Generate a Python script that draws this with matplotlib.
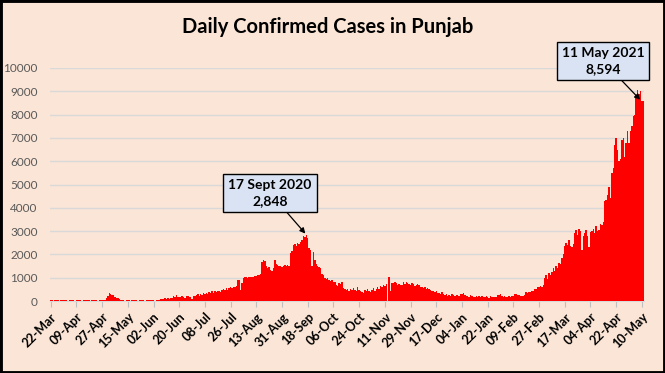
import matplotlib
matplotlib.use("Agg")
import matplotlib.pyplot as plt
import matplotlib.patches as mpatches
import numpy as np

# ---------------- data (daily confirmed cases, starting 22-Mar-2020) ----------------
mar_2020 = [40, 30, 0, 35, 45, 30, 0, 40, 35, 30]
apr_2020 = [45, 35, 0, 40, 30, 45, 40, 0, 35, 50, 40, 30, 0, 45, 40, 35, 30, 40, 0, 35,
            45, 40, 30, 0, 40, 35, 45, 40, 60, 110]
may_2020 = [200, 330, 300, 240, 270, 190, 140, 110, 80, 60, 45, 40, 0, 35, 40, 30, 0, 35, 40, 30,
            35, 0, 40, 35, 30, 40, 0, 35, 40, 30, 45]
jun_2020 = [35, 40, 0, 45, 50, 60, 70, 90, 80, 110, 100, 120, 90, 130, 110, 200, 180, 250, 170, 160,
            190, 210, 180, 150, 200, 220, 190, 160, 100, 210]
jul_2020 = [230, 250, 290, 220, 310, 260, 330, 290, 360, 310, 380, 340, 410, 360, 420, 390, 450, 410, 380, 480,
            510, 460, 540, 490, 570, 590, 540, 620, 600, 650, 920]
aug_2020 = [880, 470, 760, 1000, 1050, 1020, 1000, 1040, 1010, 1050, 1030, 1060, 1080, 1100, 1120, 1150,
            1680, 1750, 1720, 1500, 1400, 1450, 1350, 1300, 1420, 1750, 1600, 1550, 1500, 1520, 1480]
sep_2020 = [1510, 1530, 1500, 1550, 1500, 2050, 2150, 2400, 2450, 2380, 2500, 2450, 2550, 2600, 2800,
            2750, 2848, 2700, 2280, 2200, 1500, 2100, 1750, 1600, 1500, 1450, 1400, 1150, 1100, 1000]
oct_2020 = [950, 1000, 900, 850, 880, 800, 820, 700, 650, 780, 720, 800, 550, 500, 480, 520, 450, 500, 470, 540,
            480, 450, 600, 470, 430, 400, 350, 480, 420, 500, 450]
nov_2020 = [400, 480, 550, 450, 500, 600, 520, 650, 580, 700, 650, 720, 0, 1050, 450, 780, 760, 800, 790, 700,
            720, 680, 700, 800, 750, 820, 780, 730, 700, 760]
dec_2020 = [720, 650, 700, 750, 680, 600, 620, 550, 580, 500, 560, 520, 480, 440, 450, 380, 420, 350, 330, 300,
            380, 280, 250, 300, 220, 260, 230, 280, 250, 210, 240]
jan_2021 = [260, 230, 300, 280, 350, 240, 220, 200, 180, 250, 210, 190, 170, 200, 160, 210, 180, 230, 190, 170,
            210, 180, 150, 200, 170, 190, 160, 180, 250, 270, 300]
feb_2021 = [220, 180, 200, 160, 190, 210, 180, 200, 220, 280, 300, 260, 240, 200, 230, 210, 250, 380, 350, 400,
            380, 420, 450, 520, 500, 600, 580, 650]
mar_2021 = [620, 700, 1000, 1100, 950, 1200, 1100, 1250, 1400, 1300, 1500, 1400, 1650, 1600, 1850, 2000,
            2350, 2500, 2400, 2600, 2350, 2300, 2450, 2900, 3050, 2850, 3100, 3000, 2200, 2800, 2900]
apr_2021 = [3050, 2800, 2300, 2950, 3000, 3100, 2900, 3200, 3000, 3050, 3300, 3250, 3400, 4300, 4350,
            4550, 4900, 4400, 5500, 5700, 6700, 7000, 6500, 6000, 6100, 6900, 7000, 6200, 6800, 7300]
may_2021 = [6800, 7300, 7500, 7950, 8000, 8800, 9050, 8900, 9000, 8600, 8594]

x_labels = ['22-Mar', '09-Apr', '27-Apr', '15-May', '02-Jun', '20-Jun', '08-Jul', '26-Jul',
            '13-Aug', '31-Aug', '18-Sep', '06-Oct', '24-Oct', '11-Nov', '29-Nov', '17-Dec',
            '04-Jan', '22-Jan', '09-Feb', '27-Feb', '17-Mar', '04-Apr', '22-Apr', '10-May']
tick_step_days = 18
y_ticks = [0, 1000, 2000, 3000, 4000, 5000, 6000, 7000, 8000, 9000, 10000]

title = "Daily Confirmed Cases in Punjab"
peak1_label = "17 Sept 2020\n2,848"
peak2_label = "11 May 2021\n8,594"
peak1_value = 2848

values = np.array(mar_2020 + apr_2020 + may_2020 + jun_2020 + jul_2020 + aug_2020 + sep_2020 +
                  oct_2020 + nov_2020 + dec_2020 + jan_2021 + feb_2021 + mar_2021 + apr_2021 + may_2021)
days = np.arange(len(values))

# ---------------- figure ----------------
W, H = 665, 373
BG = '#FBE5D6'
plt.rcParams['font.family'] = ['Lato', 'DejaVu Sans']

fig = plt.figure(figsize=(W / 100, H / 100), dpi=100, facecolor=BG)
ax = fig.add_axes([50 / W, (H - 301) / H, (644 - 50) / W, (301 - 68) / H])
ax.set_facecolor(BG)

ax.bar(days, values, width=1.0, color='#FF0000', edgecolor='none', zorder=3)

ax.set_xlim(-0.5, len(values) - 0.5)
ax.set_ylim(0, 10000)
ax.set_yticks(y_ticks)
ax.set_yticklabels([str(v) for v in y_ticks], fontsize=8.5, color='#595959')
ax.tick_params(axis='y', length=0, pad=9)

xt = np.arange(len(x_labels)) * tick_step_days
ax.set_xticks(xt)
ax.set_xticklabels(x_labels, rotation=45, ha='right', rotation_mode='anchor',
                   fontsize=9, fontweight='bold', color='black')
ax.tick_params(axis='x', length=4, color='#BFBFBF', pad=3)

ax.grid(axis='y', color='#D9D9D9', linewidth=1, zorder=0)
ax.set_axisbelow(True)
for s in ['top', 'right', 'left']:
    ax.spines[s].set_visible(False)
ax.spines['bottom'].set_color('#D9D9D9')

fig.text(328 / W, 1 - 27 / H, title, ha='center', va='center', fontsize=14.5, fontweight='bold')

box = dict(boxstyle='square,pad=0.35', facecolor='#DAE3F3', edgecolor='black', linewidth=1)
arrow = dict(arrowstyle='-|>', color='black', lw=0.9, shrinkA=0, shrinkB=1, mutation_scale=8)

i1 = int(np.where(values == peak1_value)[0][0])
ax.annotate(peak1_label, xy=(days[i1], values[i1]), xytext=(270, H - 193),
            textcoords='figure pixels', ha='center', va='center', fontsize=10,
            fontweight='bold', linespacing=1.35, bbox=box, arrowprops=arrow, zorder=5)

ax.annotate(peak2_label, xy=(days[-1] - 1.5, values[-1]), xytext=(603, H - 61),
            textcoords='figure pixels', ha='center', va='center', fontsize=10,
            fontweight='bold', linespacing=1.35, bbox=box, arrowprops=arrow, zorder=5,
            annotation_clip=False)

fig.patches.append(mpatches.Rectangle((0, 0), 1, 1, transform=fig.transFigure, fill=False,
                                      edgecolor='black', linewidth=3.5, zorder=10))

fig.savefig('out.png', dpi=100, facecolor=BG)
